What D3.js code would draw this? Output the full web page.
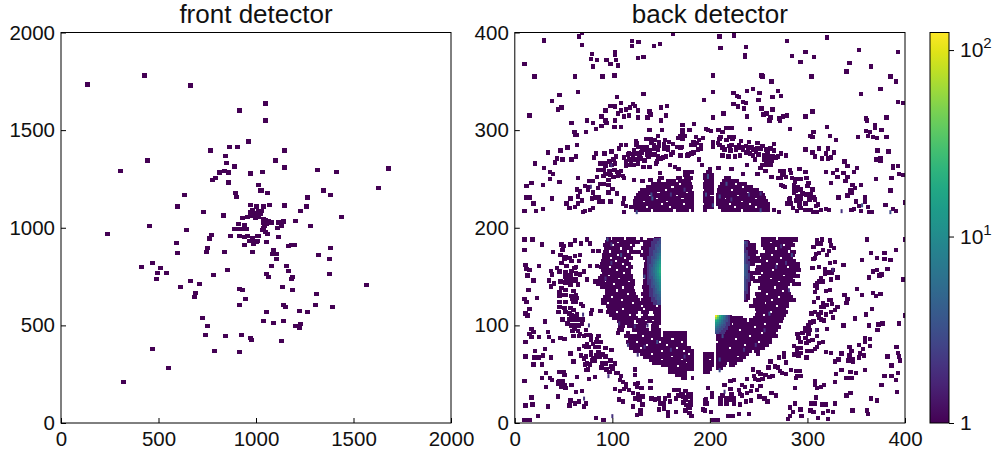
<!DOCTYPE html>
<html>
<head>
<meta charset="utf-8">
<script src="https://cdn.jsdelivr.net/npm/d3@7"></script>
<style>
    html, body { margin: 0; padding: 0; background: #fff; }
    text { font-family: "Liberation Sans", sans-serif; fill: #111; }
    .tick text { font-family: "Liberation Sans Narrow", "Liberation Sans", sans-serif; }
    .bar-axis .tick text { font-family: "Liberation Sans", sans-serif; }
</style>
</head>
<body>
<div id="chart"></div>
<script>
let panelTitles = ['front detector', 'back detector']
let frontTicks = [0, 500, 1000, 1500, 2000]
let backTicks = [0, 100, 200, 300, 400]
let colorTicks = [1, 10, 100]
let colorMax = 125

// front detector, one pixel hit per pair
let frontPoints = [[136,1733],[428,1779],[664,1728],[915,1600],[961,1441],[864,1415],[905,1415],[767,1395],[843,1369],[849,1333],[890,1313],[444,1344],[305,1292],[813,1282],[838,1292],[859,1282],[972,1277],[792,1256],[777,1246],[859,1231],[1013,1220],[895,1179],[900,1159],[1023,1190],[633,1169],[597,1108],[731,1082],[833,1062],[972,1118],[1003,1108],[454,1010],[643,990],[931,1051],[910,1020],[941,1015],[890,995],[982,1092],[972,1082],[992,1077],[1013,1087],[972,1067],[956,1056],[982,1062],[997,1051],[1013,1062],[1023,1072],[915,995],[936,995],[951,995],
    [1049,1636],[1049,1549],[1146,1395],[1100,1344],[1146,1308],[1033,1287],[1315,1297],[1413,1287],[1679,1303],[1028,1190],[1059,1179],[1628,1205],[1346,1190],[1382,1169],[1264,1154],[1069,1118],[1146,1113],[1259,1108],[1228,1087],[1038,1108],[1018,1087],[1028,1087],[1003,1072],[1013,1056],[1438,1056],[1038,1046],[1049,1041],[1064,1036],[1038,1026],[1054,1020],[1079,1026],[1043,1010],[1038,1000],[1115,1026],[1141,1031],[1203,1036],[1131,1010],[1279,1010],[1110,1000],
    [238,969],[772,964],[761,944],[592,923],[869,959],[915,959],[941,954],[956,959],[941,913],[967,933],[982,949],[1008,959],[987,933],[1008,933],[987,918],[982,877],[751,897],[746,877],[597,872],[838,877],[469,820],[413,800],[510,795],[495,769],[541,769],[490,738],[854,785],[782,759],[664,728],[710,713],[613,697],[915,687],[931,682],[690,667],[685,646],[946,636],[915,605],[726,538],[751,497],[741,451],[843,446],[926,451],[972,436],[977,426],[469,379],[787,369],[915,364],[551,282],[321,210],
    [1115,954],[1054,928],[1167,908],[1182,913],[1197,913],[1382,897],[1320,861],[1377,841],[1090,887],[1085,867],[1105,867],[1105,841],[1079,805],[1156,805],[1167,779],[1054,764],[1064,749],[1187,749],[1182,738],[1377,764],[1567,708],[1136,697],[1187,682],[1310,661],[1305,605],[1141,605],[1151,595],[1392,595],[1054,569],[1223,574],[1264,569],[1038,523],[1090,513],[1141,523],[1203,497],[1228,508],[1223,487],[1131,420],[1033,990],[1049,979],[1059,969],[1013,959],[1003,928]]

// back detector, isolated hits, split by quadrant of the picture
let backUpperLeft = [[69,400],[66,396],[30,392],[69,387],[120,391],[127,390],[120,386],[143,386],[149,388],[162,399],[79,378],[78,373],[84,372],[94,372],[103,380],[103,377],[104,372],[98,368],[106,366],[80,365],[126,374],[132,375],[10,368],[20,355],[62,355],[90,355],[102,356],[46,336],[65,339],[132,337],[105,334],[38,330],[194,331],[109,328],[98,325],[103,324],[44,321],[48,323],[93,320],[109,320],[114,321],[118,323],[121,327],[123,325],[126,320],[138,319],[150,323],[156,325],[15,315],[89,314],[106,317],[112,314],[117,315],[126,313],[136,313],[139,316],[155,315],[150,310],[74,310],[80,307],[58,307],[93,310],[103,310],[94,307],[89,304],[102,303],[109,303],[83,301],[184,306],[172,305],[172,300],[179,300],[138,300],[151,300],[196,301],[61,298],[62,295],[64,295],[73,298],[64,285],[54,282],[47,279],[34,277],[43,271],[41,267],[49,270],[58,270],[63,273],[21,266],[30,261],[36,257],[39,255],[36,250],[46,247],[65,251],[29,244],[12,243],[17,246],[64,239],[67,237],[65,232],[57,230],[53,225],[69,228],[65,225],[56,220],[62,221],[38,230],[12,231],[15,231],[19,225],[29,219],[22,217],[10,217],[70,216],[72,217],[77,218],[80,220],
    [172,296],[170,294],[174,294],[168,292],[172,291],[186,293],[193,292],[189,290],[183,288],[187,287],[191,285],[185,285],[191,281],[183,277],[181,276],[178,275],[170,274],[189,270],[192,264],[109,285],[114,285],[124,289],[125,287],[135,291],[139,291],[147,294],[144,290],[148,288],[154,290],[158,288],[162,286],[166,283],[171,283],[127,283],[135,283],[143,285],[148,284],[153,286],[107,281],[133,280],[138,279],[143,281],[147,280],[153,281],[157,280],[162,277],[117,276],[122,279],[125,276],[130,277],[136,275],[144,275],[147,273],[152,272],[155,273],[83,276],[92,276],[99,278],[104,273],[112,272],[117,270],[121,270],[125,270],[129,271],[133,269],[137,273],[81,272],[88,266],[92,266],[101,270],[103,266],[99,264],[114,263],[118,264],[122,264],[126,266],[132,262],[138,262],[145,266],[150,271],[146,268],[159,264],[164,262],[168,260],[177,274],
    [86,259],[91,259],[97,258],[93,255],[105,257],[109,258],[84,252],[80,248],[76,248],[91,253],[98,254],[106,253],[101,252],[111,253],[112,251],[122,249],[131,248],[139,249],[149,256],[149,251],[96,249],[88,245],[96,244],[76,242],[72,243],[85,241],[91,245],[100,240],[75,239],[80,236],[79,230],[82,231],[87,227],[90,227],[86,231],[96,236],[105,235],[98,227],[112,230],[111,225],[114,222],[119,221],[112,216],
    [88,259],[93,263],[97,268],[102,259],[107,254],[116,275],[121,275],[128,273],[131,282],[140,287],[157,283],[160,275],[170,282],[181,285],[188,280],[140,275],[145,282],[124,285],[114,268],[119,268]]
let backUpperRight = [[210,396],[225,397],[211,384],[237,385],[236,377],[236,375],[279,391],[320,395],[284,376],[298,380],[307,375],[293,370],[353,382],[393,380],[343,369],[365,365],[340,360],[203,356],[253,356],[254,355],[263,350],[304,355],[385,355],[391,350],[238,340],[244,342],[251,338],[270,340],[273,335],[264,334],[203,339],[224,338],[228,335],[230,334],[250,331],[234,329],[237,328],[224,327],[229,324],[235,322],[253,322],[264,321],[214,317],[203,313],[238,314],[255,316],[258,317],[262,313],[261,310],[271,312],[272,310],[275,314],[279,315],[298,314],[305,319],[355,337],[375,342],[393,329],[398,328],[360,312],[361,310],[381,313],[369,305],[369,302],[376,300],[360,299],[364,298],[362,294],[367,293],[371,292],[381,293],[352,293],[320,303],[306,298],[303,294],[305,293],[323,294],[329,290],[282,301],[241,301],[222,302],[217,302],[209,300],[213,298],[198,300],[201,299],
    [211,293],[210,291],[220,293],[224,293],[223,291],[203,288],[203,286],[203,283],[208,287],[210,285],[213,282],[220,284],[215,280],[221,279],[232,289],[240,288],[249,287],[266,286],[227,283],[227,280],[231,282],[234,283],[237,284],[239,281],[243,283],[244,280],[249,281],[254,284],[252,281],[262,281],[266,279],[237,277],[241,276],[244,274],[246,270],[250,275],[213,274],[219,273],[226,273],[231,274],[256,274],[259,276],[256,270],[258,269],[264,273],[268,272],[270,273],[273,276],[278,274],[259,264],[262,264],[263,269],[238,264],[200,260],[209,261],[222,260],[252,261],[257,258],[249,255],[234,255],[263,252],[270,251],[272,258],[276,258],[274,254],[278,252],[282,259],[283,256],[284,251],[292,260],[298,257],[288,250],[293,250],[299,251],[301,246],[273,244],[275,243],[277,242],[286,244],[286,241],[288,238],[286,236],[293,239],[300,243],[305,239],[282,230],[279,225],[290,232],[293,230],[299,234],[303,234],[306,231],[308,229],[288,228],[292,225],[298,225],[311,224],[285,220],[289,217],[293,220],[298,218],[303,218],[306,216],[310,216],[314,218],[319,219],[322,218],[271,216],[266,218],[345,218],[348,219],[355,217],[363,216],[366,216],[391,217],[388,219],[380,223],[400,226],[362,221],[359,231],[359,227],[353,222],[350,227],[332,231],[341,233],[344,238],[345,236],[346,244],[349,241],[355,244],[324,246],[385,238],[386,251],[370,250],[339,248],[341,252],[331,252],[330,259],[326,256],[337,256],[319,257],[341,263],[338,268],[348,257],[351,261],[388,263],[388,261],[393,263],[394,255],[398,254],[298,280],[312,281],[321,281],[305,277],[308,273],[315,271],[321,271],[324,272],[327,277],[319,276],[370,270],[375,271],[375,269],[372,279],[383,278],
    [234,280],[240,282],[247,278],[230,285],[222,285],[217,290],[258,280],[261,271],[259,266],[254,264],[276,256],[273,251],[287,247],[290,242],[295,235],[302,229],[309,222],[292,222],[283,225],[281,229]]
let backLowerLeft = [[10,188],[18,188],[28,183],[48,183],[50,181],[49,177],[39,175],[57,183],[62,187],[68,184],[74,188],[77,184],[10,177],[47,172],[52,170],[56,169],[51,168],[62,171],[67,172],[80,176],[86,176],[58,166],[48,164],[66,166],[11,162],[25,161],[12,158],[15,157],[37,156],[43,159],[53,161],[61,159],[63,160],[77,161],[84,161],[38,152],[46,155],[52,154],[58,156],[71,155],[13,151],[19,146],[35,146],[57,151],[63,153],[67,152],[74,147],[53,147],[61,146],[40,143],[37,140],[52,144],[57,142],[65,142],[82,145],[14,136],[48,138],[46,134],[60,135],[10,127],[23,128],[12,124],[46,130],[52,131],[63,131],[59,127],[46,124],[52,124],[60,124],[64,128],[68,122],[15,117],[46,119],[57,118],[60,116],[70,120],[52,114],[45,114],[11,112],[13,110],[79,116],[78,112],[88,115],[49,106],[58,110],[62,109],[66,106],[31,104],[54,102],[58,100],[69,102],[17,96],[19,93],[15,91],[25,88],[34,93],[61,96],[65,94],[60,89],[73,95],[73,90],[77,90],[17,88],[11,83],[35,88],[39,84],[47,87],[51,86],[67,91],[74,81],[78,85],[86,89],[84,86],[71,79],[76,78],[80,81],[88,83],[31,76],[21,74],[66,76],[57,71],[60,63],[11,68],[20,67],[25,67],[29,69],[37,67],[19,60],[28,60],[68,69],[71,66],[73,68],[83,69],[86,73],[93,77],[99,75],[82,64],[87,68],[79,64],[72,60],[77,60],[75,55],[73,54],[89,57],[93,61],[98,64],[94,55],[100,56],[103,61],[32,51],[46,52],[50,52],[51,49],[28,46],[36,46],[38,44],[10,43],[64,47],[76,45],[82,47],[97,52],[106,51],[108,44],[123,55],[123,49],[114,40],[111,42],[46,43],[44,40],[48,37],[52,36],[58,39],[32,37],[63,32],[69,33],[44,27],[17,26],[11,18],[18,19],[34,17],[57,23],[56,18],[62,20],[66,22],[73,20],[71,17],[24,7],[10,3],[15,3],[83,5],[91,3],
    [123,40],[126,41],[125,37],[130,36],[139,43],[139,36],[103,35],[108,33],[112,35],[117,34],[121,31],[126,29],[131,27],[107,24],[111,22],[123,25],[128,24],[131,19],[140,25],[144,24],[121,17],[129,13],[129,9],[125,8],[148,25],[154,25],[158,28],[163,34],[168,34],[175,33],[149,20],[153,20],[159,22],[165,25],[168,28],[157,11],[157,7],[148,14],[153,15],[165,11],[175,13],[179,10],[181,7],[193,14],[195,13],[195,23],[195,20],
    [52,150],[58,147],[47,145],[63,147],[47,131],[52,136],[58,130],[63,124],[51,118],[56,112],[61,106],[66,100],[64,111],[56,106],[70,106],[61,100],[59,94],[66,89],[71,89],[78,89],[83,83],[78,73],[73,78],[82,78],[86,78],[90,70],[93,68],[78,70],[74,61],[80,66],[90,61],[99,58],[104,51],[109,48],[114,37],[47,41],[51,39],[49,43],[44,42]]
let backLowerRight = [[361,188],[400,188],[315,188],[310,187],[323,187],[310,184],[314,184],[324,182],[306,180],[327,179],[322,176],[312,174],[309,173],[320,172],[308,169],[306,168],[391,177],[365,174],[379,174],[371,169],[356,167],[379,168],[385,167],[328,165],[337,162],[305,159],[318,158],[326,157],[325,154],[382,158],[371,157],[367,155],[376,152],[374,151],[363,149],[318,153],[314,148],[331,149],[324,147],[312,145],[310,143],[308,141],[398,147],[323,136],[319,135],[310,138],[308,134],[351,137],[338,131],[356,131],[367,133],[370,130],[375,132],[341,127],[340,123],[311,128],[307,124],[316,123],[322,126],[325,122],[320,121],[317,119],[331,119],[328,116],[324,114],[308,114],[304,112],[314,113],[319,111],[326,108],[312,108],[366,117],[360,111],[349,107],[400,110],[306,104],[303,103],[314,106],[317,105],[337,100],[363,100],[377,102],[394,102],[373,101],[372,95],[298,97],[301,100],[310,95],[320,96],[290,91],[291,87],[298,94],[301,91],[298,87],[301,84],[310,89],[312,82],[316,83],[359,87],[359,83],[364,86],[353,80],[343,78],[357,76],[364,79],[391,78],[392,78],[286,79],[290,77],[293,77],[308,76],[300,74],[304,74],[289,73],[293,72],[291,69],[310,78],[319,73],[324,72],[335,71],[345,74],[343,69],[354,71],[358,69],[353,67],[347,65],[342,64],[347,63],[393,72],[394,68],[395,64],[382,68],[386,59],[332,65],[328,63],[276,72],[276,68],[271,67],[299,67],[286,70],[262,63],[260,57],[278,62],[267,58],[270,57],[272,53],[274,51],[278,50],[283,54],[288,53],[292,53],[293,48],[290,48],[288,46],[335,54],[329,50],[344,52],[359,54],[350,51],[345,46],[340,46],[328,42],[379,48],[386,48],[393,51],[391,44],[376,39],[392,32],[344,31],[340,28],[365,25],[371,23],[308,43],[308,39],[317,39],[314,37],[310,36],[287,36],[309,26],[304,20],[306,20],[308,20],[315,19],[319,19],[328,20],[287,20],[282,16],[285,11],[293,14],[303,13],[306,11],[316,10],[321,12],[326,11],[346,13],[361,13],[362,9],[282,7],[280,4],[294,7],[311,5],[321,4],[240,9],[230,9],[223,7],[219,7],
    [244,55],[238,45],[245,48],[250,52],[252,50],[257,49],[246,45],[250,44],[254,45],[261,47],[264,48],[225,44],[221,43],[215,39],[221,35],[233,39],[236,37],[243,38],[248,34],[242,33],[238,31],[230,34],[231,30],[233,28],[222,29],[213,28],[211,25],[217,25],[222,24],[225,20],[231,19],[237,22],[242,23],[251,27],[256,25],[259,22],[263,31],[268,28],[252,38],[198,36],[202,31],[202,27],[196,24],[197,20],[201,11],[211,20],[217,20],[203,3],[206,3],[208,3],[225,25],
    [316,177],[312,160],[323,164],[321,154],[316,145],[324,126],[314,119],[311,111],[302,95],[293,83],[299,82],[305,85],[295,92]]

// hits read with a count above one: x, y, count
let backCounted = [[335,217,2],[385,216,3],[356,223,3],[70,111,2],[76,100,2],[96,48,2],[71,25,2],[100,7,2],[215,32,2],[99,264,2],[78,242,2],[125,216,3],[141,230,4],[140,234,3],[160,234,2],[174,239,2],[198,252,3],[196,234,3],[210,232,3],[217,245,3],[198,253,3],[222,229,2],[240,234,2],[252,235,2],[252,218,3],[203,223,3],[95,188,3],[99,183,2],[109,172,3],[93,148,2],[99,164,2],[133,150,3],[107,102,2],[123,99,2],[136,100,2],[126,70,2],[116,80,2],[160,75,2],[174,68,2],[146,83,3],[133,78,2],[284,172,3],[273,181,2],[268,160,2],[278,164,2],[281,136,2],[261,112,3],[256,95,2],[213,89,3],[210,65,3],[210,54,3],[235,75,2],[247,80,2],[326,157,2],[309,95,2]]

// crowded rows of the back detector: y, then x from / x to pairs
let backCrowdedUpper = [[218,122,140,142,162,165,179,181,184,193,197,211,232,234,262],[221,120,135,137,158,160,184,193,204,208,225,227,246,248,262],[224,121,150,152,172,174,184,194,204,206,220,222,240,242,262],[227,121,131,133,155,157,184,193,204,206,232,234,260],[230,122,145,147,170,173,184,193,204,206,215,217,246,248,258],[233,124,138,140,165,167,184,193,200,206,228,230,256],[236,126,146,149,176,178,184,193,204,207,238,240,254],[239,128,154,156,182,194,204,207,222,224,250],[242,134,160,163,183,193,204,208,233,235,244],[245,140,168,170,182,193,204,210,226,228,238],[248,146,150,155,165,167,181,194,204,212,230],[251,149,153,165,171,173,183,193,204,214,222],[254,172,180,193,204],[257,172,184,196,202]]
let backCrowdedLeft = [[188,93,99,100,112,114,124,128,131,143,150],[185,92,105,107,128,131,150],[182,90,100,102,118,120,123,131,140,142,150],[179,91,108,110,121,129,150],[175,90,97,99,115,117,129,131,150],[172,89,105,107,119,128,136,138,150],[169,89,98,100,112,114,121,131,150],[166,88,103,105,117,133,150],[163,87,110,112,119,132,141,143,150],[160,86,97,99,114,116,121,132,150],[157,88,104,106,119,131,150],[154,89,111,113,119,131,138,140,150],[151,87,96,98,121,131,150],[148,85,106,108,121,133,150],[145,81,92,94,116,118,123,131,150],[142,83,101,103,123,131,140,142,150],[139,87,110,112,122,130,150],[135,92,104,106,123,131,150],[132,92,115,117,124,129,138,140,150],[129,90,99,101,126,131,150],[126,88,109,111,128,129,150],[123,88,95,97,120,122,137,139,150],[120,93,129,131,145,147,150],[117,95,110,112,131,133,150],[114,93,104,106,126,129,138,142,150],[111,97,117,119,124,131,137,143,150],[108,100,126,129,150],[105,105,122,124,133,136,141,143,150],[102,106,122,126,136,141,150],[99,106,113,115,134,140,148],[95,105,112,120,138,140,150],[92,104,108,114,118,125,150,152,177],[89,112,130,132,150,152,177],[86,116,140,142,160,163,177],[83,114,124,126,148,150,170,172,177],[80,117,135,137,155,157,177],[77,117,128,130,165,167,181],[74,121,150,152,172,174,184],[71,128,140,142,178,180,184,193,204],[68,131,160,162,184,193,204],[65,138,150,152,170,172,184,193,199,201,204],[62,141,175,177,184,193,204],[59,150,166,168,184,193,204],[55,157,184,193,202],[52,157,177,193,200],[49,164,177],[46,170,177,181,184],[30,168,174,176,183],[27,170,183],[24,172,178,180,183],[21,170,176,178,183],[18,173,183],[15,175,182]]
let backCrowdedRight = [[188,252,268,270,290],[185,235,240,252,262,264,285],[182,235,247,252,275,277,287],[179,235,247,254,267,269,283],[175,235,249,256,280,282,288],[172,235,247,251,263,265,287],[169,235,251,252,272,274,285],[166,235,258,260,288],[163,235,246,252,268,270,292],[160,235,240,247,279,281,292],[157,235,240,246,264,266,293],[154,235,252,254,288],[151,235,244,252,275,277,292],[148,235,246,249,262,264,285],[145,235,242,244,270,272,287],[142,235,242,251,282,284,293],[138,235,240,249,266,268,280],[135,235,240,252,274,276,281],[132,235,239,246,258,260,283],[129,235,240,247,270,272,285],[126,235,239,244,263,265,288],[123,244,256,258,281],[120,240,268,270,281],[117,246,278],[114,247,262,264,280],[111,246,254,256,278],[108,206,213,217,234,244,276],[105,206,238,240,275],[101,206,222,224,255,257,271],[98,206,245,247,273],[95,206,230,232,270],[92,206,217,219,252,254,268],[89,206,240,242,270],[86,206,226,228,264],[83,208,249,251,264],[80,206,235,237,261],[77,206,220,222,256],[74,206,243,245,251],[71,206,240,247,251],[68,206,228,230,237],[65,206,234],[62,206,218,220,228],[59,206,217,220,226],[56,206,213]]

// hot edges of the shadowed area, counts
let leftEdgeX = [137, 139, 141, 143, 145, 147, 149]
let leftEdgeY = [188,185,182,179,176,173,170,167,164,161,158,155,152,149,146,143,140,137,134,131,128,125,122]
let leftEdgeCounts = [[1,1,1,2,2,2,3],[1,1,2,2,2,3,3],[1,1,2,2,3,3,4],[1,2,2,2,3,4,4],[1,2,2,3,3,4,5],[1,2,2,3,4,5,7],[2,2,3,3,4,6,9],[2,2,3,4,5,7,11],[2,2,3,4,6,9,13],[2,3,3,5,7,10,16],[2,3,4,5,8,11,18],[2,3,4,6,8,13,20],[2,3,4,5,8,11,17],[2,3,3,5,7,10,14],[2,2,3,4,6,8,12],[2,2,3,4,5,7,10],[1,2,3,3,5,6,9],[1,2,2,3,4,6,8],[1,2,2,3,4,5,6],[1,2,2,3,3,4,5],[1,1,2,2,3,4,4],[1,1,2,2,2,3,3],[1,1,1,2,2,3,3]]
let rightEdgeX = [236, 238, 240]
let rightEdgeY = [185,182,179,176,173,170,167,164,161,158,155,152,149,146,143,140,137,134,131,128]
let rightEdgeCounts = [[3,2,1],[2,2,1],[2,1,1],[2,2,1],[3,2,1],[3,2,2],[3,2,1],[3,2,2],[4,3,2],[4,3,2],[4,3,1],[4,3,2],[3,3,2],[3,2,2],[3,2,1],[3,2,1],[3,2,1],[2,2,1],[2,1,1],[2,1,1]]
let cornerX = [206, 208, 210, 212, 214, 216, 218, 220, 222]
let cornerY = [110, 108, 106, 104, 102, 100, 98, 96, 94, 92]
let cornerCounts = [[110,50,22,12,7,5,3,2,1],[60,32,16,10,6,4,3,2,1],[32,20,12,8,5,4,3,2,1],[20,14,9,6,4,3,3,2,1],[13,10,7,5,4,3,2,2,1],[10,7,5,4,3,3,2,2,1],[7,5,4,3,3,2,2,1,1],[5,4,3,3,2,2,2,1,1],[4,3,3,2,2,2,1,1,1],[3,3,2,2,2,1,1,1,1]]

let chartWidth = 1001
let chartHeight = 452
let plotTop = 32.5
let plotBottom = 423
let markerSize = 4.4

let svg = d3.select('#chart').append('svg')
    .attr('width', chartWidth)
    .attr('height', chartHeight)
    .style('display', 'block')

let logScale = d3.scaleLog().domain([1, colorMax]).range([0, 1])
let color = d => d3.interpolateViridis(logScale(d))

function makePanel (id, title, domainMax, ticks, left, right) {
    let x = d3.scaleLinear().domain([0, domainMax]).range([left, right])
    let y = d3.scaleLinear().domain([0, domainMax]).range([plotBottom, plotTop])

    svg.append('clipPath').attr('id', id)
        .append('rect')
        .attr('x', left)
        .attr('y', plotTop)
        .attr('width', right - left)
        .attr('height', plotBottom - plotTop)

    let marks = svg.append('g').attr('clip-path', `url(#${id})`)

    let drawFrame = function () {
        svg.append('rect')
            .attr('x', left)
            .attr('y', plotTop)
            .attr('width', right - left)
            .attr('height', plotBottom - plotTop)
            .attr('fill', 'none')
            .attr('stroke', '#000')
            .attr('stroke-width', 1)

        // ticks point inward, only on the left and the bottom
        let xAxis = svg.append('g')
            .attr('transform', `translate(0, ${plotBottom})`)
            .call(d3.axisBottom(x).tickValues(ticks).tickSize(-5).tickPadding(8).tickFormat(d3.format('d')))
        let yAxis = svg.append('g')
            .attr('transform', `translate(${left}, 0)`)
            .call(d3.axisLeft(y).tickValues(ticks).tickSize(-5).tickPadding(6).tickFormat(d3.format('d')))
        for (let axis of [xAxis, yAxis]) {
            axis.select('.domain').remove()
            axis.selectAll('line').attr('stroke', '#000')
            axis.selectAll('text')
                .attr('font-family', null)
                .attr('font-size', 20.5)
        }

        svg.append('text')
            .attr('x', (left + right) / 2)
            .attr('y', 23)
            .attr('text-anchor', 'middle')
            .attr('font-size', 26)
            .text(title)
    }

    return { x, y, marks, drawFrame }
}

function drawSquares (panel, points) {
    panel.marks.append('g')
        .attr('shape-rendering', 'crispEdges')
        .selectAll('rect')
        .data(points)
        .enter()
        .append('rect')
        .attr('x', d => panel.x(d[0]) - markerSize / 2)
        .attr('y', d => panel.y(d[1]) - markerSize / 2)
        .attr('width', markerSize)
        .attr('height', markerSize)
        .attr('fill', d => color(d[2] || 1))
}

function drawCrowded (panel, rows) {
    let spans = []
    rows.forEach(function (row) {
        for (let i = 1; i < row.length; i += 2) {
            spans.push({ y: row[0], from: row[i], to: row[i + 1] })
        }
    })
    panel.marks.append('g')
        .attr('shape-rendering', 'crispEdges')
        .selectAll('rect')
        .data(spans)
        .enter()
        .append('rect')
        .attr('x', d => panel.x(d.from))
        .attr('y', d => panel.y(d.y + 2.1))
        .attr('width', d => panel.x(d.to) - panel.x(d.from))
        .attr('height', d => panel.y(d.y - 2.1) - panel.y(d.y + 2.1))
        .attr('fill', color(1))
}

function drawGrid (panel, xs, ys, counts, dx, dy) {
    let cells = []
    ys.forEach(function (yv, r) {
        xs.forEach(function (xv, c) {
            cells.push({ x: xv, y: yv, n: counts[r][c] })
        })
    })
    panel.marks.append('g')
        .attr('shape-rendering', 'crispEdges')
        .selectAll('rect')
        .data(cells)
        .enter()
        .append('rect')
        .attr('x', d => panel.x(d.x - dx / 2))
        .attr('y', d => panel.y(d.y + dy / 2))
        .attr('width', d => panel.x(d.x + dx / 2) - panel.x(d.x - dx / 2))
        .attr('height', d => panel.y(d.y - dy / 2) - panel.y(d.y + dy / 2))
        .attr('fill', d => color(d.n))
}

// front detector
let front = makePanel('clip-front', panelTitles[0], 2000, frontTicks, 61, 451)
drawSquares(front, frontPoints)
front.drawFrame()

// back detector
let back = makePanel('clip-back', panelTitles[1], 400, backTicks, 514.8, 905)
drawCrowded(back, backCrowdedUpper)
drawCrowded(back, backCrowdedLeft)
drawCrowded(back, backCrowdedRight)
drawSquares(back, backUpperLeft)
drawSquares(back, backUpperRight)
drawSquares(back, backLowerLeft)
drawSquares(back, backLowerRight)
drawGrid(back, leftEdgeX, leftEdgeY, leftEdgeCounts, 2, 3)
drawGrid(back, rightEdgeX, rightEdgeY, rightEdgeCounts, 2, 3)
drawGrid(back, cornerX, cornerY, cornerCounts, 2, 2)
back.marks.append('g')
    .selectAll('rect')
    .data(backCounted)
    .enter()
    .append('rect')
    .attr('x', d => back.x(d[0]) - 1)
    .attr('y', d => back.y(d[1]) - 2)
    .attr('width', 2)
    .attr('height', 4)
    .attr('fill', d => color(d[2]))
back.drawFrame()

// colour bar
let barLeft = 930
let barRight = 949
let barScale = d3.scaleLog().domain([1, colorMax]).range([plotBottom, 32])
let gradient = svg.append('defs').append('linearGradient')
    .attr('id', 'viridis-bar')
    .attr('x1', 0).attr('x2', 0).attr('y1', 1).attr('y2', 0)
gradient.selectAll('stop')
    .data(d3.range(0, 1.001, 0.05))
    .enter()
    .append('stop')
    .attr('offset', d => d)
    .attr('stop-color', d => d3.interpolateViridis(d))
svg.append('rect')
    .attr('x', barLeft)
    .attr('y', plotTop)
    .attr('width', barRight - barLeft)
    .attr('height', plotBottom - plotTop)
    .attr('fill', 'url(#viridis-bar)')
    .attr('stroke', '#000')
    .attr('stroke-width', 1)

let barAxis = svg.append('g')
    .attr('class', 'bar-axis')
    .attr('transform', `translate(${barRight}, 0)`)
    .call(d3.axisRight(barScale).tickValues(colorTicks).tickSize(5).tickPadding(6).tickFormat(d => d === 1 ? '1' : '10'))
barAxis.select('.domain').remove()
barAxis.selectAll('line').attr('stroke', '#000')
barAxis.selectAll('text')
    .attr('font-family', null)
    .attr('font-size', 21)
barAxis.selectAll('text')
    .filter(d => d > 1)
    .append('tspan')
    .attr('dy', -9)
    .attr('font-size', 15)
    .text(d => Math.round(Math.log10(d)))
</script>
</body>
</html>
